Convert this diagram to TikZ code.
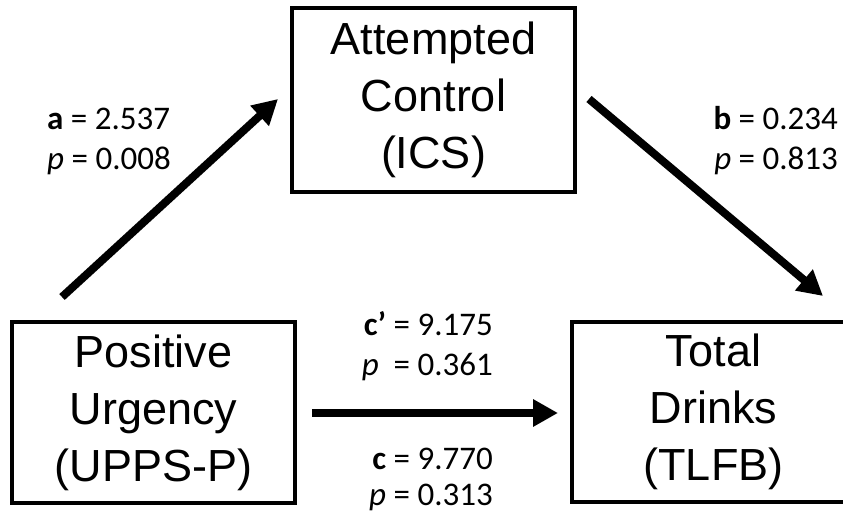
\documentclass[tikz,border=0pt]{standalone}
\usepackage{fontspec}
\usetikzlibrary{arrows.meta}
\newfontfamily\boxfont{Liberation Sans}
\newfontfamily\lblfont{Carlito}
\begin{document}
\begin{tikzpicture}[x=1pt,y=-1pt,
  varbox/.style={draw, line width=4.5pt, minimum width=283pt, inner sep=0pt, align=center,
    font=\boxfont\fontsize{45}{57}\selectfont},
  path/.style={line width=8pt, -{Triangle[length=25pt,width=26pt]}},
  lbl/.style={inner sep=0pt, font=\lblfont\fontsize{33}{40}\selectfont}]
\useasboundingbox (0,0) rectangle (843,518);
\begin{scope}
\clip (0,0) rectangle (843,518);
\node[varbox, minimum height=184pt] (ac) at (433.5,100) {Attempted\\Control\\(ICS)};
\node[varbox, minimum height=181pt] (pu) at (153.5,412.5) {Positive\\Urgency\\(UPPS-P)};
\node[varbox, minimum height=180pt] (td) at (713.5,412) {Total\\Drinks\\(TLFB)};
\end{scope}
\coordinate (a1) at (62,297);
\coordinate (a2) at (278,99);
\coordinate (b1) at (589,99);
\coordinate (b2) at (823,296);
\coordinate (c1) at (312,413);
\coordinate (c2) at (558,413);
\draw[path] (a1) -- (a2);
\draw[path] (b1) -- (b2);
\draw[path] (c1) -- (c2);
\node[lbl, align=left, anchor=west] (la) at (47,141) {\textbf{a} = 2.537\\\textit{p} = 0.008};
\node[lbl, align=right, anchor=east] (lb) at (838,141) {\textbf{b} = 0.234\\\textit{p} = 0.813};
\node[lbl, align=right, anchor=east] (lcp) at (493,346) {\textbf{c’} = 9.175\\\textit{p}\ \ = 0.361};
\node[lbl, align=right, anchor=east] (lc) at (493,479) {\textbf{c} = 9.770\\[-4pt]\textit{p} = 0.313};
\end{tikzpicture}
\end{document}
